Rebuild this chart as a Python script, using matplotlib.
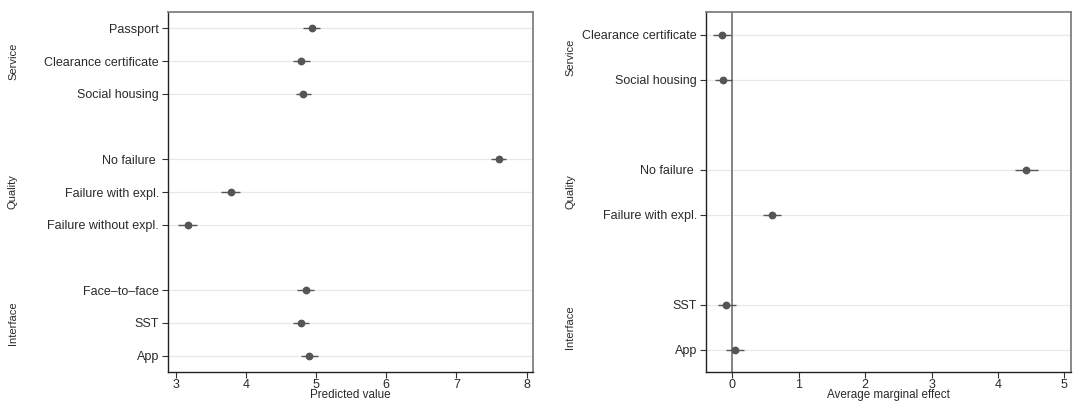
import matplotlib
matplotlib.use("Agg")
import matplotlib.pyplot as plt

plt.rcParams['font.family'] = ['Liberation Sans', 'DejaVu Sans']

# ---- Left panel: predicted values ----
left_labels = ["Passport", "Clearance certificate", "Social housing", "",
               "No failure ", "Failure with expl.", "Failure without expl.", "",
               "Face\u2013to\u2013face", "SST", "App"]
left_est = [4.94, 4.785, 4.815, None, 7.60, 3.79, 3.17, None, 4.85, 4.785, 4.90]
left_lo = [4.82, 4.67, 4.71, None, 7.49, 3.65, 3.03, None, 4.73, 4.67, 4.78]
left_hi = [5.06, 4.91, 4.93, None, 7.71, 3.92, 3.31, None, 4.97, 4.90, 5.02]
left_groups = ["Service", "Quality", "Interface"]
left_group_rows = [(0, 2), (4, 6), (8, 10)]
left_xticks = [3, 4, 5, 6, 7, 8]

# ---- Right panel: average marginal effects ----
right_labels = ["Clearance certificate", "Social housing", "",
                "No failure ", "Failure with expl.", "",
                "SST", "App"]
right_est = [-0.16, -0.134, None, 4.43, 0.603, None, -0.088, 0.036]
right_lo = [-0.29, -0.26, None, 4.26, 0.46, None, -0.21, -0.10]
right_hi = [-0.02, 0.0, None, 4.61, 0.74, None, 0.05, 0.175]
right_groups = ["Service", "Quality", "Interface"]
right_group_rows = [(0, 1), (3, 4), (6, 7)]
right_xticks = [0, 1, 2, 3, 4, 5]

W, H = 1074, 403
fig = plt.figure(figsize=(W / 100, H / 100), dpi=100)

mcol = "#555555"
tcol = "#2a2a2a"


def panel(rect, labels, est, lo, hi, groups, grows, xticks, xlim, xlabel, glabel_x, zero=False):
    ax = fig.add_axes(rect)
    n = len(labels)
    rows = [i for i, l in enumerate(labels) if l != ""]
    for i in rows:
        ax.axhline(i, color="#e8e8e8", lw=0.9, zorder=0)
    if zero:
        ax.axvline(0, color="#7a7a7a", lw=1.3, zorder=1)
    for i in rows:
        ax.plot([lo[i], hi[i]], [i, i], color=mcol, lw=1.0, zorder=2, solid_capstyle='butt')
        ax.plot(est[i], i, 'o', color=mcol, ms=4.6, zorder=3, mec=mcol)
    ax.set_ylim(n - 0.5, -0.5)
    ax.set_xlim(*xlim)
    ax.set_yticks(rows)
    ax.set_yticklabels([labels[i] for i in rows], fontsize=9.0, color=tcol)
    ax.set_xticks(xticks)
    ax.set_xticklabels([str(t) for t in xticks], fontsize=9.0, color=tcol)
    ax.tick_params(axis='y', direction='out', length=4.5, width=0.8, color="#333333", pad=2)
    ax.tick_params(axis='x', direction='out', length=4.0, width=0.8, color="#333333", pad=1)
    ax.set_xlabel(xlabel, fontsize=8.4, color=tcol, labelpad=-1.5)
    for s in ["left", "bottom"]:
        ax.spines[s].set_color("#222222")
        ax.spines[s].set_linewidth(1.0)
    for s in ["top", "right"]:
        ax.spines[s].set_color("#808080")
        ax.spines[s].set_linewidth(1.3)
    # group labels
    for g, (a, b) in zip(groups, grows):
        yc = (a + b) / 2
        ydisp = ax.transData.transform((0, yc))[1]
        yfig = ydisp / (H)
        fig.text(glabel_x / W, yfig, g, rotation=90, ha='center', va='center',
                 fontsize=8.0, color=tcol)
    return ax


panel([168 / W, 1 - 372 / H, (533 - 168) / W, (372 - 12) / H],
      left_labels, left_est, left_lo, left_hi, left_groups, left_group_rows,
      left_xticks, (2.89, 8.09), "Predicted value", 13)

panel([706 / W, 1 - 372 / H, (1071 - 706) / W, (372 - 12) / H],
      right_labels, right_est, right_lo, right_hi, right_groups, right_group_rows,
      right_xticks, (-0.395, 5.1), "Average marginal effect", 570, zero=True)

fig.savefig("out.png", dpi=100)
